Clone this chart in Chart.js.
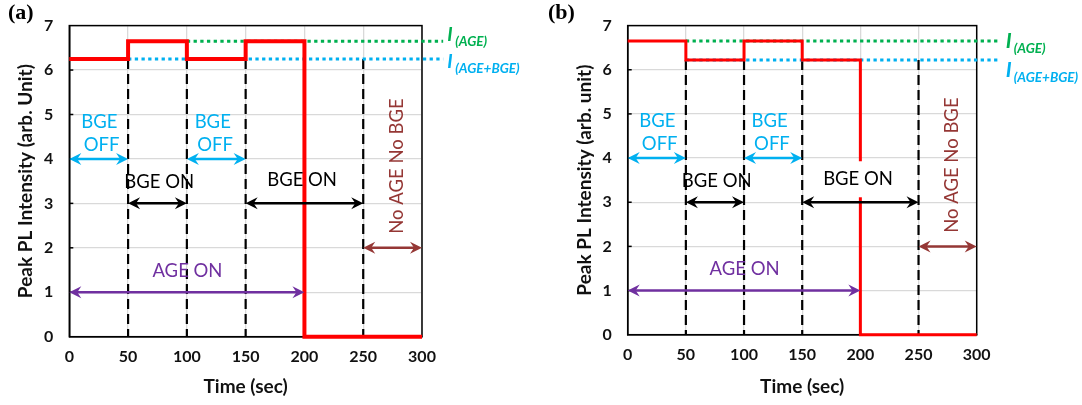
<!DOCTYPE html>
<html>
<head>
<meta charset="utf-8">
<script src="https://cdn.jsdelivr.net/npm/chart.js@4.4.1/dist/chart.umd.min.js"></script>
<style>
  body { margin: 0; background: #fff; }
  #wrap { position: relative; width: 1082px; height: 405px; }
  canvas { position: absolute; top: 0; }
</style>
</head>
<body>
<div id="wrap">
  <canvas id="chartA" width="540" height="405" style="left:0"></canvas>
  <canvas id="chartB" width="542" height="405" style="left:540px"></canvas>
</div>
<script>
// peak PL intensity, one value per interval starting at each time edge
var timeEdges = [0, 50, 100, 150, 200, 300];
var intensityA = [6.25, 6.65, 6.25, 6.65, 0, 0];
var intensityB = [6.65, 6.22, 6.65, 6.22, 0, 0];

// reference levels I(AGE) and I(AGE+BGE)
var levelAge = 6.65;
var levelAgeBgeA = 6.25;
var levelAgeBgeB = 6.22;
var ageLineStartA = 100;
var ageLineStartB = 50;
var bgeLineStart = 50;
var levelLineEnd = 318;

// moments where the excitation is switched
var switchTimes = [50, 100, 150, 250];

// arrows: [from, to, y]
var bgeOffSpans = [[0, 50, 4], [100, 150, 4]];
var bgeOnSpans = [[50, 100, 3], [150, 250, 3]];
var ageOnSpans = [[0, 200, 1]];
var noExcSpans = [[250, 300, 2]];

// text labels: [text, x, y]
var bgeOffText = [['BGE', 25.5, 4.84], ['OFF', 27.5, 4.32], ['BGE', 122, 4.84], ['OFF', 124, 4.32]];
var bgeOnText = [['BGE ON', 76.5, 3.48], ['BGE ON', 198, 3.52]];
var ageOnText = [['AGE ON', 100.5, 1.48]];
var noExcText = [['No AGE No BGE', 278.5, 3.84]];

var xTickStep = 50, xMax = 300;
var yTickStep = 1, yMax = 7;

var cyan = '#00b0f0', green = '#00b050', purple = '#7030a0', brown = '#953735', red = '#ff0000';

function pts(xs, ys) {
    return xs.map(function (x, i) { return {x: x, y: ys[i]}; });
}

function drawArrow(ctx, x0, x1, y, color) {
    ctx.strokeStyle = color;
    ctx.fillStyle = color;
    ctx.lineWidth = 2.5;
    ctx.setLineDash([]);
    ctx.beginPath();
    ctx.moveTo(x0 + 6, y);
    ctx.lineTo(x1 - 6, y);
    ctx.stroke();
    [[x0, -1], [x1, 1]].forEach(function (h) {
        var x = h[0], d = h[1];
        ctx.beginPath();
        ctx.moveTo(x, y);
        ctx.lineTo(x - d * 12, y - 6);
        ctx.lineTo(x - d * 8, y);
        ctx.lineTo(x - d * 12, y + 6);
        ctx.closePath();
        ctx.fill();
    });
}

// frame under the curves, then arrows, labels and level captions on top
var annotate = {
    id: 'annotate',
    beforeDatasetsDraw: function (chart) {
        var ctx = chart.ctx, ys = chart.scales.y, a = chart.chartArea;
        ctx.save();
        ctx.strokeStyle = '#000';
        ctx.lineWidth = 1.5;
        ctx.strokeRect(a.left, a.top, a.right - a.left, a.bottom - a.top);
        for (var v = 1; v < yMax; v++) {
            var ty = ys.getPixelForValue(v);
            ctx.beginPath();
            ctx.moveTo(a.left, ty);
            ctx.lineTo(a.left + 4, ty);
            ctx.stroke();
        }
        ctx.restore();
    },
    afterDatasetsDraw: function (chart, args, opts) {
        var ctx = chart.ctx, xs = chart.scales.x, ys = chart.scales.y;
        ctx.save();
        [[bgeOffSpans, cyan], [bgeOnSpans, '#000'], [ageOnSpans, purple], [noExcSpans, brown]].forEach(function (g) {
            g[0].forEach(function (s) {
                drawArrow(ctx, xs.getPixelForValue(s[0]), xs.getPixelForValue(s[1]), ys.getPixelForValue(s[2]), g[1]);
            });
        });

        ctx.font = '18.5px Lato';
        ctx.textAlign = 'center';
        ctx.textBaseline = 'middle';
        [[bgeOffText, cyan], [bgeOnText, '#000'], [ageOnText, purple]].forEach(function (g) {
            g[0].forEach(function (t, i) {
                var px = xs.getPixelForValue(t[1]), py = ys.getPixelForValue(t[2]);
                if (opts.boxedLabel && g[0] === bgeOnText && i === 1) {
                    ctx.fillStyle = '#fff';
                    ctx.fillRect(px - 36, py - 18, 72, 36);
                }
                ctx.fillStyle = g[1];
                ctx.fillText(t[0], px, py);
            });
        });
        noExcText.forEach(function (t) {
            ctx.save();
            ctx.translate(xs.getPixelForValue(t[1]), ys.getPixelForValue(t[2]));
            ctx.rotate(-Math.PI / 2);
            ctx.fillStyle = brown;
            ctx.fillText(t[0], 0, 0);
            ctx.restore();
        });

        // captions at the end of the dotted levels
        var lx = xs.getPixelForValue(levelLineEnd) + opts.capGap;
        ctx.textAlign = 'left';
        ctx.textBaseline = 'alphabetic';
        [[levelAge, green, '(AGE)', opts.capDy[0]], [opts.bgeLevel, cyan, '(AGE+BGE)', opts.capDy[1]]].forEach(function (c) {
            var by = ys.getPixelForValue(c[0]) + c[3];
            ctx.fillStyle = c[1];
            ctx.font = 'italic bold ' + opts.capSize + 'px Lato';
            ctx.fillText('I', lx, by);
            ctx.font = 'italic bold 13.5px Lato';
            ctx.fillText(c[2], lx + 8, by + 5);
        });

        ctx.fillStyle = '#000';
        ctx.font = 'bold 22px "Liberation Serif"';
        ctx.fillText(opts.letter, 8, 19);
        ctx.restore();
    }
};

function buildChart(id, intensity, ageStart, bgeLevel, o) {
    var datasets = [{
        data: pts(timeEdges, intensity),
        stepped: 'before',
        borderColor: red,
        borderWidth: o.redWidth,
        pointRadius: 0,
        clip: 3
    }, {
        data: [{x: ageStart, y: levelAge}, {x: levelLineEnd, y: levelAge}],
        borderColor: green,
        borderWidth: 3,
        borderDash: [3.3, 3.4],
        pointRadius: 0,
        clip: false
    }, {
        data: [{x: bgeLineStart, y: bgeLevel}, {x: levelLineEnd, y: bgeLevel}],
        borderColor: cyan,
        borderWidth: 3,
        borderDash: [3.3, 3.4],
        pointRadius: 0,
        clip: false
    }];
    switchTimes.forEach(function (t) {
        datasets.push({
            data: [{x: t, y: bgeLevel}, {x: t, y: 0}],
            borderColor: '#000',
            borderWidth: 2.2,
            borderDash: [10, 5],
            pointRadius: 0
        });
    });

    var tickFont = {family: 'Lato', size: 16, weight: 'bold'};
    var titleFont = {family: 'Lato', size: 19, weight: 'bold'};

    return new Chart(document.getElementById(id).getContext('2d'), {
        type: 'line',
        data: {datasets: datasets},
        plugins: [annotate],
        options: {
            responsive: false,
            animation: false,
            layout: {padding: {top: o.top, right: o.right, left: 0, bottom: 0}},
            plugins: {
                legend: {display: false},
                tooltip: {enabled: false},
                annotate: {letter: o.letter, boxedLabel: o.boxed, bgeLevel: bgeLevel, capGap: o.capGap, capDy: o.capDy, capSize: o.capSize}
            },
            scales: {
                x: {
                    type: 'linear',
                    min: 0,
                    max: xMax,
                    afterFit: function (s) { s.height = o.xHeight; },
                    ticks: {stepSize: xTickStep, padding: 11, color: '#111', font: tickFont},
                    grid: {color: '#d9d9d9', lineWidth: 1.3, drawTicks: false},
                    border: {color: '#000', width: 1.5},
                    title: {display: true, text: 'Time (sec)', color: '#111', padding: {top: 0, bottom: 7}, font: titleFont}
                },
                y: {
                    min: 0,
                    max: yMax,
                    afterFit: function (s) { s.width = o.yWidth; },
                    ticks: {stepSize: yTickStep, padding: 16, color: '#111', font: tickFont},
                    grid: {color: '#d9d9d9', lineWidth: 1.3, drawTicks: false},
                    border: {color: '#000', width: 1.5},
                    title: {display: true, text: o.yTitle, color: '#111', padding: {top: o.yTitlePad, bottom: 0}, font: titleFont}
                }
            }
        }
    });
}

buildChart('chartA', intensityA, ageLineStartA, levelAgeBgeA, {
    letter: '(a)', redWidth: 4, boxed: false, top: 9, right: 118, xHeight: 68.3, yWidth: 69.3,
    yTitle: 'Peak PL Intensity (arb. Unit)', yTitlePad: 14.4, capGap: 4, capDy: [0, 9], capSize: 19
});
buildChart('chartB', intensityB, ageLineStartB, levelAgeBgeB, {
    letter: '(b)', redWidth: 3, boxed: true, top: 10, right: 105.3, xHeight: 70.3, yWidth: 87.7,
    yTitle: 'Peak PL Intensity (arb. unit)', yTitlePad: 33.6, capGap: 8, capDy: [7, 17], capSize: 21
});
</script>
</body>
</html>
